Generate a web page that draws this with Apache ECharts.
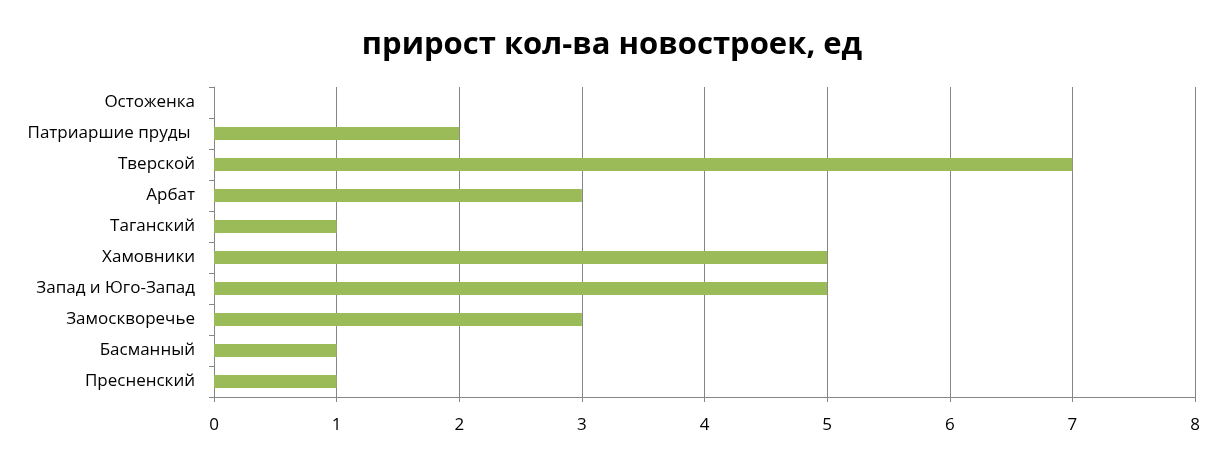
<!DOCTYPE html>
<html>
<head>
<meta charset="utf-8">
<script src="https://cdn.jsdelivr.net/npm/echarts@6/dist/echarts.min.js"></script>
<style>html,body{margin:0;padding:0;background:#fff}#c{width:1224px;height:449px}</style>
</head>
<body>
<div id="c"></div>
<script>
const categories = ['Пресненский','Басманный','Замоскворечье','Запад и Юго-Запад','Хамовники','Таганский','Арбат','Тверской','Патриаршие пруды ','Остоженка'];
const values = [1,1,3,5,5,1,3,7,2,0];
const xTicks = {min:0,max:8,interval:1};
const FONT = '"Open Sans", "Liberation Sans", sans-serif';
const chart = echarts.init(document.getElementById('c'), null, {renderer:'canvas'});
chart.setOption({
  animation:false,
  backgroundColor:'#fff',
  title:{text:'прирост кол-ва новостроек, ед',left:'center',top:25,
    textStyle:{fontFamily:FONT,fontSize:31,fontWeight:'bold',color:'#000'}},
  grid:{left:214,right:29,top:87,bottom:52,containLabel:false},
  xAxis:{type:'value',min:xTicks.min,max:xTicks.max,interval:xTicks.interval,
    axisLine:{show:true,lineStyle:{color:'#868686',width:1}},
    axisTick:{show:true,length:5,lineStyle:{color:'#868686'}},
    splitLine:{show:true,lineStyle:{color:'#868686',width:1}},
    axisLabel:{color:'#000',fontFamily:FONT,fontSize:17,margin:20}},
  yAxis:{type:'category',data:categories,
    axisLine:{show:true,lineStyle:{color:'#868686',width:1}},
    axisTick:{show:true,length:5,lineStyle:{color:'#868686'},alignWithLabel:false},
    axisLabel:{color:'#000',fontFamily:FONT,fontSize:17,margin:19}},
  series:[{type:'bar',data:values,barWidth:13,itemStyle:{color:'#9BBB59'}}]
});
</script>
</body>
</html>
